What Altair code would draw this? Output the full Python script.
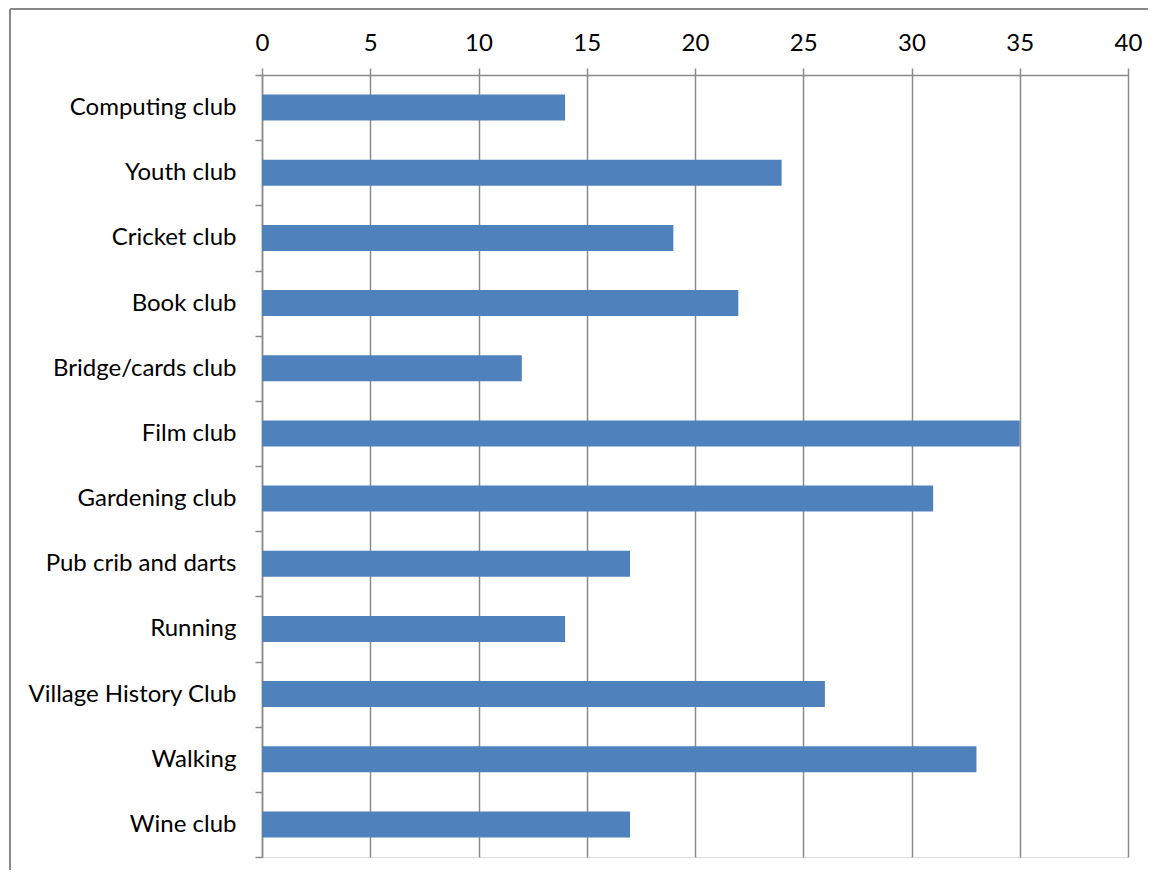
import altair as alt
import pandas as pd

categories = ["Computing club", "Youth club", "Cricket club", "Book club",
              "Bridge/cards club", "Film club", "Gardening club",
              "Pub crib and darts", "Running", "Village History Club",
              "Walking", "Wine club"]
values = [14, 24, 19, 22, 12, 35, 31, 17, 14, 26, 33, 17]

df = pd.DataFrame({"category": categories, "value": values})

FONT = "Lato"
GRAY = "#8a8a8a"

bars = alt.Chart(df).mark_bar(color="#4F81BD", height={"band": 0.4}).encode(
    x=alt.X("value:Q",
            scale=alt.Scale(domain=[0, 40], nice=False),
            axis=alt.Axis(orient="top", values=list(range(0, 41, 5)), title=None,
                          grid=True, gridColor=GRAY, gridWidth=1.5,
                          domainColor=GRAY, domainWidth=1.5,
                          tickColor=GRAY, tickSize=7, tickWidth=1.5,
                          labelFont=FONT, labelFontSize=24, labelColor="#000000",
                          labelFlush=False, labelPadding=13)),
    y=alt.Y("category:N", sort=categories,
            scale=alt.Scale(paddingInner=0, paddingOuter=0),
            axis=alt.Axis(title=None, tickBand="extent",
                          domainColor=GRAY, domainWidth=1.5,
                          tickColor=GRAY, tickSize=7, tickWidth=1.5,
                          labelFont=FONT, labelFontSize=24, labelColor="#000000",
                          labelPadding=19, labelLimit=300)),
)

frame_top = alt.Chart(df).mark_rule(color=GRAY, strokeWidth=2).encode(
    x=alt.value(-252), x2=alt.value(900), y=alt.value(-66))
frame_left = alt.Chart(df).mark_rule(color=GRAY, strokeWidth=2).encode(
    x=alt.value(-252), y=alt.value(-66), y2=alt.value(820))

chart = alt.layer(frame_top, frame_left, bars).properties(
    width=866, height=782,
    padding={"left": 254, "top": 67, "right": 20, "bottom": 13},
    autosize=alt.AutoSizeParams(type="none"),
).configure_view(stroke=None).configure(background="white")

chart.save("out.html", embed_options={"renderer": "svg", "actions": False})
